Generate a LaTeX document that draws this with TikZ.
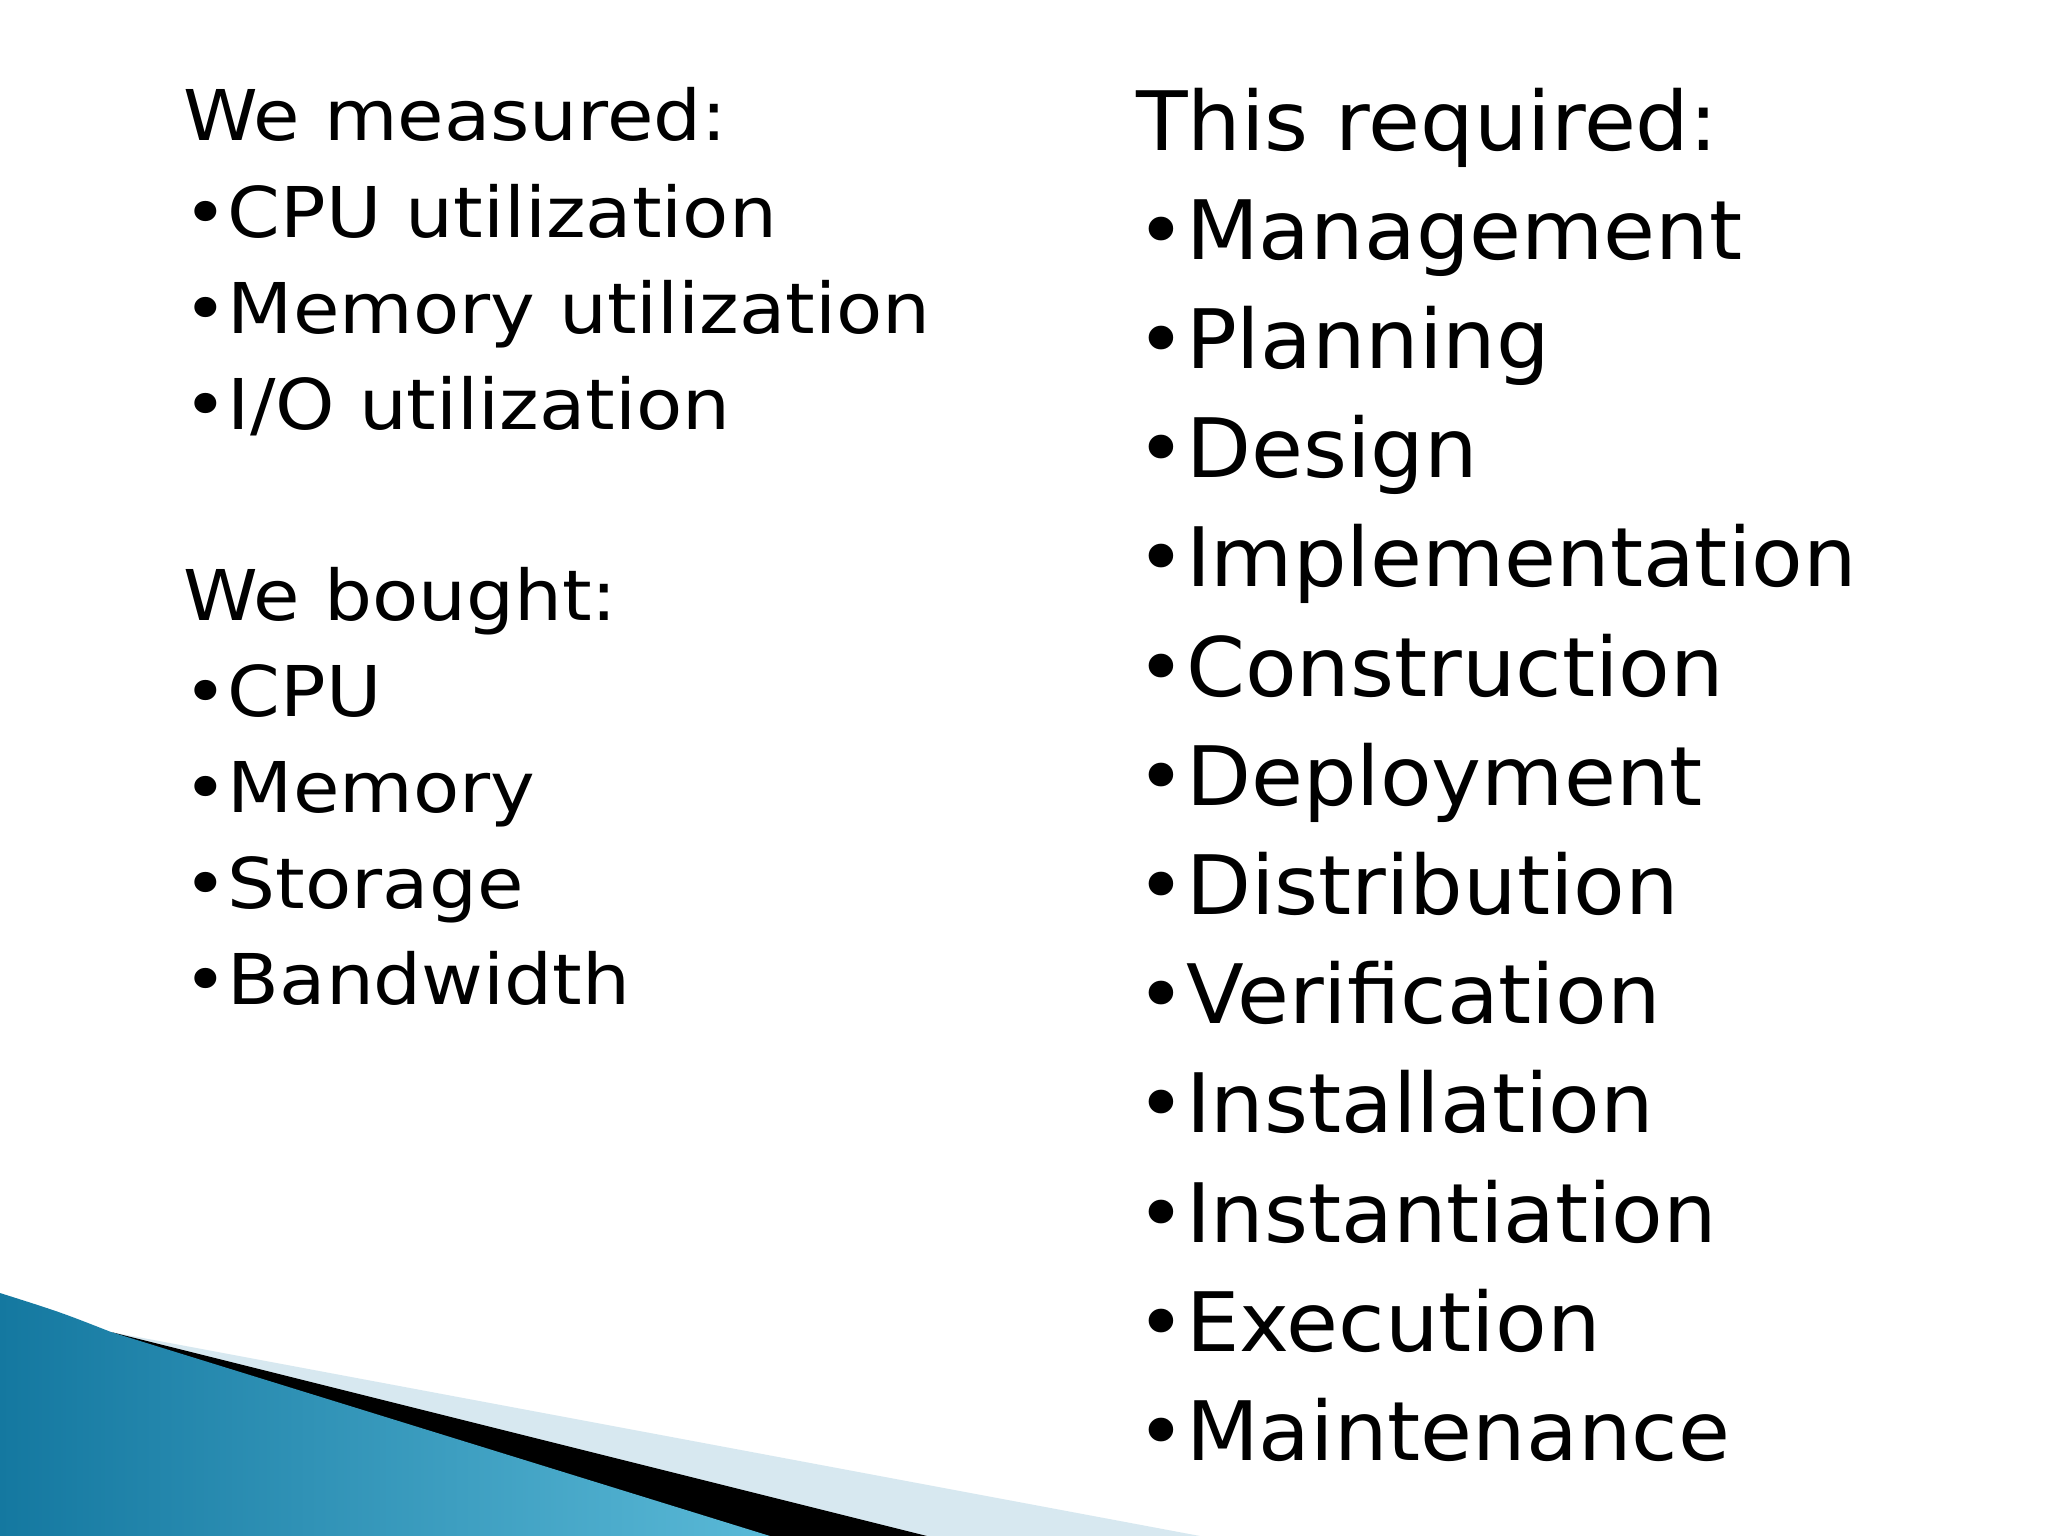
\documentclass[tikz,border=0pt]{standalone}
\usepackage{fontspec}
\setmainfont{DejaVu Sans}
\definecolor{tealdark}{RGB}{20,120,160}
\definecolor{teallight}{RGB}{90,185,215}
\definecolor{paleblue}{RGB}{215,232,240}
\begin{document}
\begin{tikzpicture}[x=1pt,y=-1pt,
 lt/.style={anchor=base west,inner sep=0pt,font=\fontsize{70}{80}\selectfont,xscale=1.08},
 rt/.style={anchor=base west,inner sep=0pt,font=\fontsize{82}{90}\selectfont,xscale=1.03}]
\useasboundingbox (0,0) rectangle (2048,1536);
\fill[white] (0,0) rectangle (2048,1536);
\fill[paleblue] (111,1332) -- (1200,1536) -- (700,1536) -- cycle;
\fill[black] (111,1332) -- (927,1536) -- (700,1536) -- cycle;
\shade[left color=tealdark, right color=teallight] (0,1293) .. controls (60,1312) .. (111,1332) -- (770,1536) -- (0,1536) -- cycle;
\foreach \t [count=\i] in {We measured:,•CPU utilization,•Memory utilization,•I/O utilization}
  \node[lt] (l\i) at (183,{141+96*(\i-1)}) {\t};
\foreach \t [count=\i] in {We bought:,•CPU,•Memory,•Storage,•Bandwidth}
  \node[lt] (m\i) at (183,{620+96*(\i-1)}) {\t};
\foreach \t [count=\i] in {This required:,•Management,•Planning,•Design,•Implementation,•Construction,•Deployment,•Distribution,•Verification,•Installation,•Instantiation,•Execution,•Maintenance}
  \node[rt] (r\i) at (1136,{150+109.2*(\i-1)}) {\t};
\end{tikzpicture}
\end{document}
